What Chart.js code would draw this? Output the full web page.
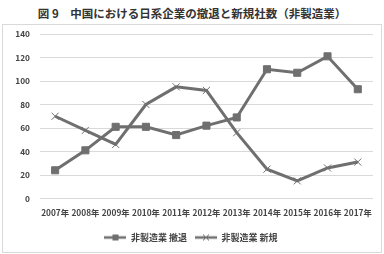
<!DOCTYPE html>
<html>
<head>
<meta charset="utf-8">
<script src="https://cdn.jsdelivr.net/npm/chart.js@4"></script>
<style>
  body { margin: 0; background: #fff; font-family: "Noto Sans CJK JP", sans-serif; }
  #title { position: absolute; left: 0; top: 5px; width: 384px; text-align: center; font-size: 11.5px; font-weight: bold; color: #333; }
  #box { position: absolute; left: 2px; top: 24px; width: 378px; height: 227px; border: 1px solid #d9d9d9; }
</style>
</head>
<body>
<div id="title">図 9　中国における日系企業の撤退と新規社数（非製造業）</div>
<div id="box"><canvas id="myChart" width="378" height="227"></canvas></div>
<script>
let ctx = document.getElementById('myChart');

const years = ['2007年','2008年','2009年','2010年','2011年','2012年','2013年','2014年','2015年','2016年','2017年'];
const withdraw = [24, 41, 61, 61, 54, 62, 69, 110, 107, 121, 93];
const newEntry = [70, 58, 46, 80, 95, 92, 56, 25, 15, 26, 31];
const yTicks = [0, 20, 40, 60, 80, 100, 120, 140];

const lineColor = '#6f6f6f';
const tickFont = { size: 8.3, weight: 'bold', family: 'Noto Sans CJK JP' };

// legend icon: line with marker on it
function legendIcon(style){
    const c = document.createElement('canvas');
    c.width = 22; c.height = 10;
    const g = c.getContext('2d');
    g.strokeStyle = lineColor;
    g.lineWidth = 2.5;
    g.beginPath(); g.moveTo(0, 5); g.lineTo(22, 5); g.stroke();
    if(style === 'rect'){
        g.fillStyle = lineColor;
        g.fillRect(8, 2, 6, 6);
    } else {
        g.lineWidth = 1;
        g.beginPath();
        g.moveTo(8, 2); g.lineTo(14, 8);
        g.moveTo(14, 2); g.lineTo(8, 8);
        g.stroke();
    }
    return c;
}

const myChart = new Chart(ctx, {
    type: 'line',
    data: {
        labels: years,
        datasets: [
            {
                label: '非製造業 撤退',
                data: withdraw,
                borderColor: lineColor,
                backgroundColor: lineColor,
                borderWidth: 3,
                pointStyle: 'rect',
                pointRadius: 5,
                pointBorderWidth: 1,
                tension: 0
            },
            {
                label: '非製造業 新規',
                data: newEntry,
                borderColor: lineColor,
                backgroundColor: lineColor,
                borderWidth: 3,
                pointStyle: 'crossRot',
                pointRadius: 5,
                pointBorderWidth: 1,
                tension: 0
            }
        ]
    },
    options: {
        responsive: false,
        animation: false,
        layout: { padding: { left: 2.3, right: 4.3, top: 0, bottom: 0 } },
        scales: {
            y: {
                min: 0,
                max: 140,
                afterBuildTicks: axis => { axis.ticks = yTicks.map(v => ({ value: v })); },
                afterFit: axis => { axis.paddingTop = 9; },
                grid: { color: '#d9d9d9', drawTicks: false },
                border: { display: false },
                ticks: { color: '#444', padding: 10, font: tickFont }
            },
            x: {
                offset: true,
                afterFit: axis => { axis.height = 26.5; },
                grid: { display: false, drawTicks: false },
                border: { display: false },
                ticks: { color: '#444', autoSkip: false, maxRotation: 0, padding: 9, font: tickFont }
            }
        },
        plugins: {
            legend: {
                position: 'bottom',
                labels: {
                    usePointStyle: true,
                    pointStyleWidth: 22,
                    color: '#444',
                    padding: 8,
                    font: { size: 9, weight: 'bold', family: 'Noto Sans CJK JP' },
                    generateLabels: chart => chart.data.datasets.map((ds, i) => ({
                        text: ds.label,
                        pointStyle: legendIcon(ds.pointStyle),
                        fontColor: '#444',
                        lineWidth: 0,
                        datasetIndex: i
                    }))
                }
            },
            tooltip: { enabled: false }
        }
    }
});
</script>
</body>
</html>
